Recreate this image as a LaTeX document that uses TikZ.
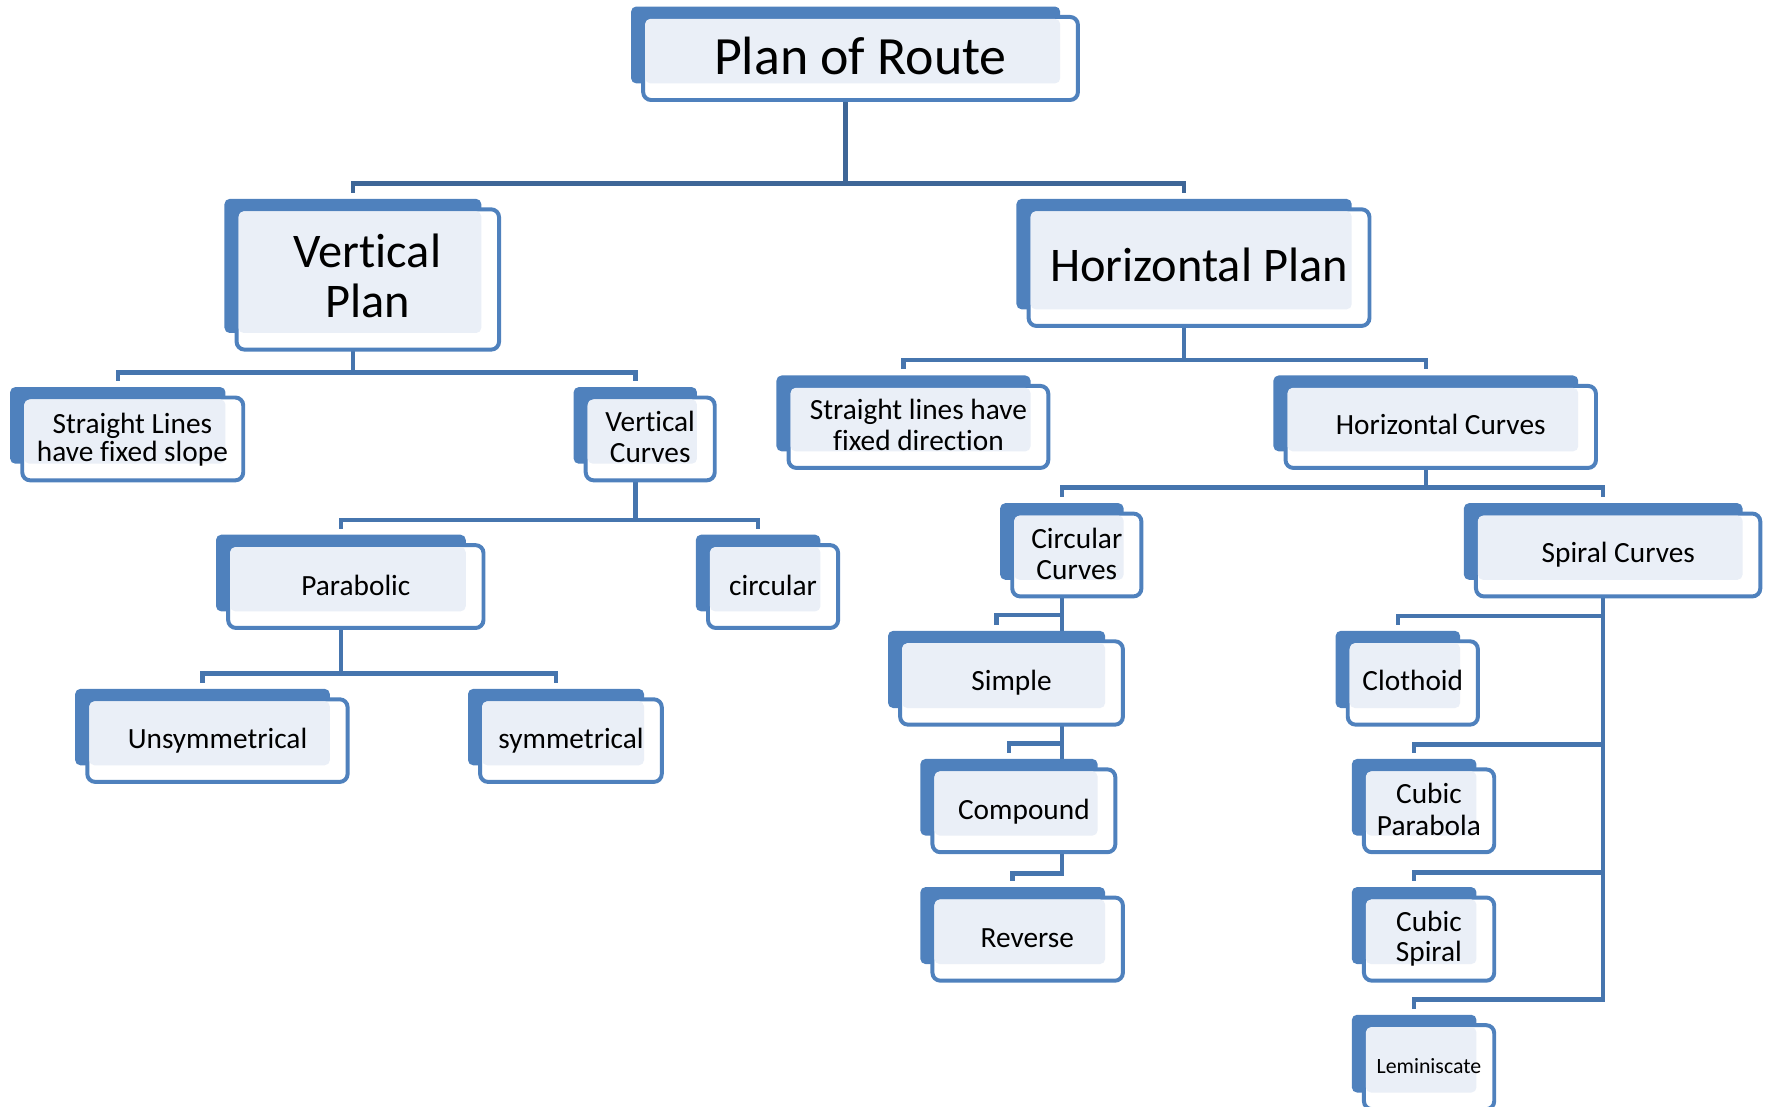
\documentclass[tikz,border=0pt]{standalone}
\usepackage{fontspec}
\setmainfont{Carlito}[Ligatures=NoCommon]
\definecolor{backc}{HTML}{4F81BD}
\definecolor{lightc}{HTML}{EAEFF7}
\definecolor{connc}{HTML}{4675AE}
\definecolor{conntop}{HTML}{3E6697}
\newcommand{\mkbox}[5]{%
  \fill[backc, rounded corners=1.3pt] ({#2-9},{#3-7.5}) rectangle ({#4-17.5},{#5-16.5});
  \draw[backc, line width=1pt, fill=white, rounded corners=2pt] ({#2+1.75},{#3+1.75}) rectangle ({#4-1.75},{#5-1.75});
  \fill[lightc, rounded corners=1.3pt] ({#2+3.5},{#3+3.5}) rectangle ({#4-17.5},{#5-16.5});
}
\newcommand{\anch}[5]{%
  \coordinate (#1-t) at ({(#2+#4-26.5)/2},{#3-13});
  \coordinate (#1-c) at ({(#2+#4-26.5)/2},{(#3+#5)/2});}
\newcommand{\elbow}[4][connc]{\draw[conn, #1] (#2-c) -- (#2-c |- #3) -| (#4-t);}
\begin{document}
\begin{tikzpicture}[x=0.01cm, y=-0.01cm,
  conn/.style={line width=1.15pt, connc},
  small/.style={font=\fontsize{7.4}{8.8}\selectfont, inner sep=0pt, anchor=base},
  big/.style={font=\fontsize{12.2}{14}\selectfont, inner sep=0pt, anchor=base}]
\useasboundingbox (0,0) rectangle (1568,982);
\clip (0,0) rectangle (1568,982);
\path coordinate (busR) at (0,162.7)
      coordinate (busVP) at (0,330.4)
      coordinate (busHP) at (0,319.4)
      coordinate (busVC) at (0,461.4)
      coordinate (busPar) at (0,597.5)
      coordinate (busHC) at (0,432.4)
      coordinate (busC1) at (0,545.7)
      coordinate (busC2) at (0,659.6)
      coordinate (busC3) at (0,775)
      coordinate (busS1) at (0,546.6)
      coordinate (busS2) at (0,660.5)
      coordinate (busS3) at (0,774.3)
      coordinate (busS4) at (0,886.7);
\anch{PR}{569}{13.3}{958.3}{90.5}
\anch{VP}{208.2}{184}{444.6}{312}
\anch{HP}{911}{184}{1217}{291}
\anch{SL}{18}{351}{217.6}{428}
\anch{VC}{518}{351}{636}{428}
\anch{SD}{698}{340.7}{932}{417}
\anch{HC}{1139}{340.7}{1418}{417}
\anch{Par}{200.7}{482}{430.8}{559}
\anch{Circ}{626.5}{482}{745.5}{559}
\anch{Uns}{75.7}{618.8}{310.2}{695.6}
\anch{Sym}{424.3}{618.8}{589}{695.6}
\anch{CC}{896.5}{454}{1014.6}{531}
\anch{SC}{1308}{454}{1563.8}{531}
\anch{Sim}{797}{567.3}{998.2}{644.8}
\anch{Clo}{1194.2}{567.3}{1313.2}{644.8}
\anch{Com}{825.7}{681}{991.5}{758}
\anch{Rev}{825.7}{794.7}{998.2}{872}
\anch{CP}{1208.6}{681}{1327.7}{758}
\anch{CS}{1208.6}{794.7}{1327.7}{872}
\anch{Lem}{1208.6}{908}{1327.7}{986}
% connectors
\elbow[conntop]{PR}{busR}{VP}
\elbow[conntop]{PR}{busR}{HP}
\elbow{VP}{busVP}{SL}
\elbow{VP}{busVP}{VC}
\elbow{HP}{busHP}{SD}
\elbow{HP}{busHP}{HC}
\elbow{VC}{busVC}{Par}
\elbow{VC}{busVC}{Circ}
\elbow{Par}{busPar}{Uns}
\elbow{Par}{busPar}{Sym}
\elbow{HC}{busHC}{CC}
\elbow{HC}{busHC}{SC}
\elbow{CC}{busC1}{Sim}
\elbow{CC}{busC2}{Com}
\elbow{CC}{busC3}{Rev}
\elbow{SC}{busS1}{Clo}
\elbow{SC}{busS2}{CP}
\elbow{SC}{busS3}{CS}
\elbow{SC}{busS4}{Lem}
% boxes
\mkbox{PR}{569}{13.3}{958.3}{90.5}
\mkbox{VP}{208.2}{184}{444.6}{312}
\mkbox{HP}{911}{184}{1217}{291}
\mkbox{SL}{18}{351}{217.6}{428}
\mkbox{VC}{518}{351}{636}{428}
\mkbox{SD}{698}{340.7}{932}{417}
\mkbox{HC}{1139}{340.7}{1418}{417}
\mkbox{Par}{200.7}{482}{430.8}{559}
\mkbox{Circ}{626.5}{482}{745.5}{559}
\mkbox{Uns}{75.7}{618.8}{310.2}{695.6}
\mkbox{Sym}{424.3}{618.8}{589}{695.6}
\mkbox{CC}{896.5}{454}{1014.6}{531}
\mkbox{SC}{1308}{454}{1563.8}{531}
\mkbox{Sim}{797}{567.3}{998.2}{644.8}
\mkbox{Clo}{1194.2}{567.3}{1313.2}{644.8}
\mkbox{Com}{825.7}{681}{991.5}{758}
\mkbox{Rev}{825.7}{794.7}{998.2}{872}
\mkbox{CP}{1208.6}{681}{1327.7}{758}
\mkbox{CS}{1208.6}{794.7}{1327.7}{872}
\mkbox{Lem}{1208.6}{908}{1327.7}{986}
% texts
\node[inner sep=0pt, anchor=base, font=\fontsize{13.6}{16}\selectfont] (tPR) at (763.5,65.7) {Plan of Route};
\node[big] (tVP1) at (326,237.2) {Vertical};
\node[big] (tVP2) at (326,281.6) {Plan};
\node[big] (tHP) at (1064,250) {Horizontal Plan};
\node[small] (tSL1) at (117.5,384.5) {Straight Lines};
\node[small] (tSL2) at (117.5,409.7) {have fixed slope};
\node[small] (tVC1) at (577,383) {Vertical};
\node[small] (tVC2) at (577,410.5) {Curves};
\node[small] (tSD1) at (815,372.7) {Straight lines have};
\node[small] (tSD2) at (815,400) {fixed direction};
\node[small] (tHC) at (1278.5,386) {Horizontal Curves};
\node[small] (tPar) at (315.8,528) {Parabolic};
\node[small] (tCirc) at (686,528) {circular};
\node[small] (tUns) at (193,664) {Unsymmetrical};
\node[small] (tSym) at (506.7,664) {symmetrical};
\node[small] (tCC1) at (955.5,486.5) {Circular};
\node[small] (tCC2) at (955.5,513.8) {Curves};
\node[small] (tSC) at (1436,499.3) {Spiral Curves};
\node[small] (tSim) at (897.6,612.8) {Simple};
\node[small] (tClo) at (1253.7,612.8) {Clothoid};
\node[small] (tCom) at (908.6,727) {Compound};
\node[small] (tRev) at (911.6,840.6) {Reverse};
\node[small] (tCP1) at (1268,713.4) {Cubic};
\node[small] (tCP2) at (1268,741) {Parabola};
\node[small] (tCS1) at (1268,826.7) {Cubic};
\node[small] (tCS2) at (1268,853.3) {Spiral};
\node[inner sep=0pt, anchor=base, font=\fontsize{5.5}{6.5}\selectfont] (tLem) at (1268,952.4) {Leminiscate};
\end{tikzpicture}
\end{document}
